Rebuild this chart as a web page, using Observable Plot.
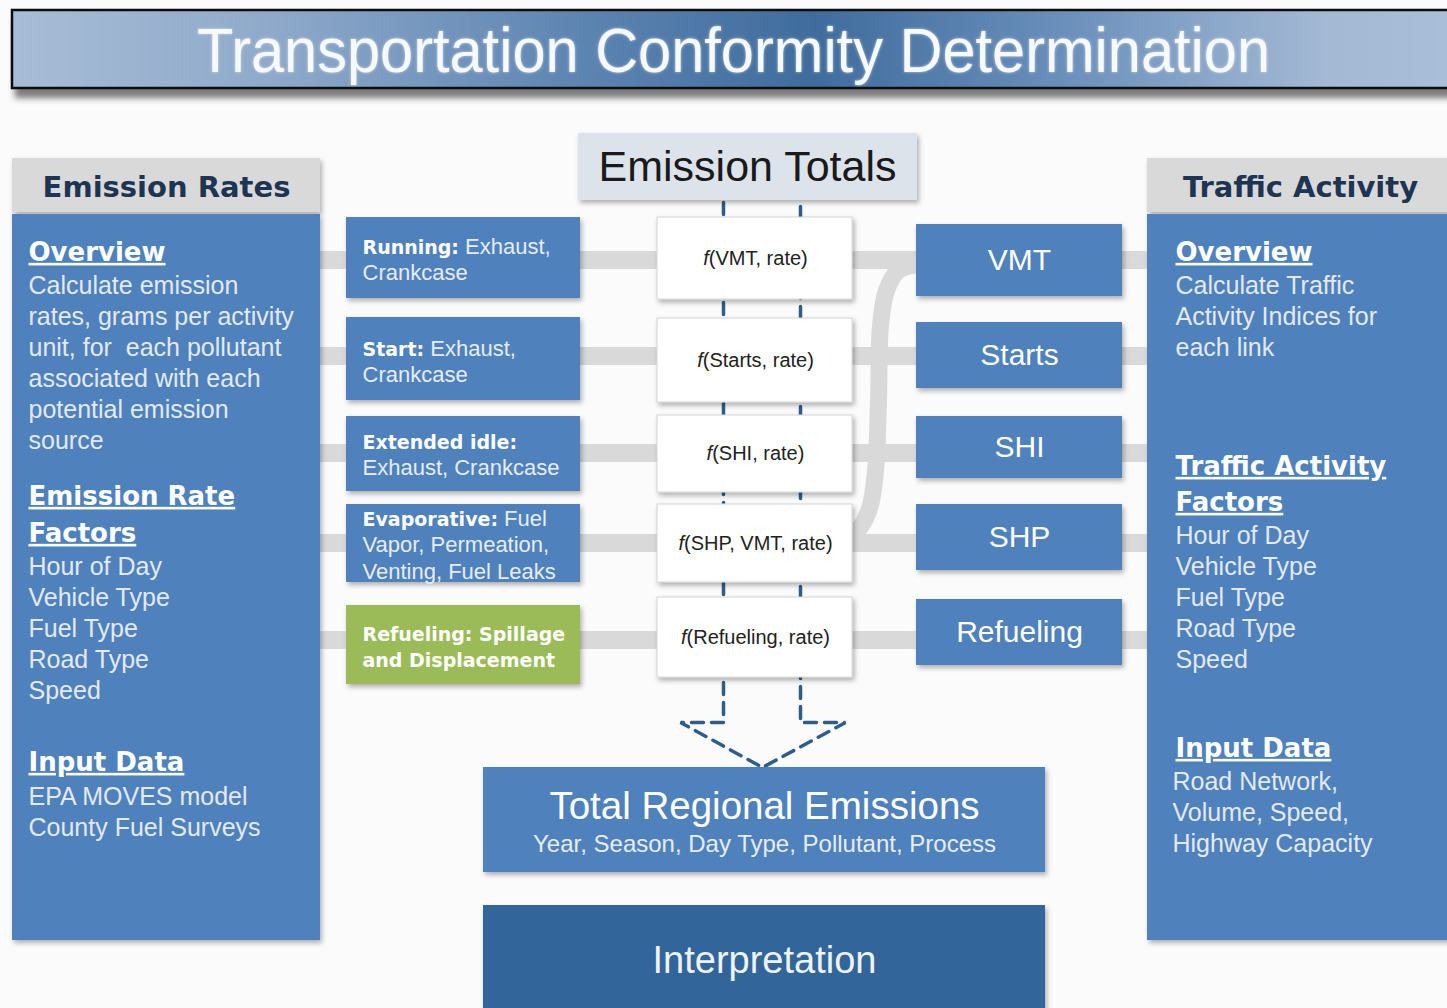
<!DOCTYPE html>
<html><head><meta charset="utf-8">
<script src="https://cdn.jsdelivr.net/npm/d3@7"></script>
<script src="https://cdn.jsdelivr.net/npm/@observablehq/plot@0.6"></script>
<style>html,body{margin:0;padding:0;background:#fbfbfb;overflow:hidden}</style>
</head><body><div id="chart"></div>
<script>
// ---------- content ----------
const titleText = "Transportation Conformity Determination";
const panelHeaders = ["Emission Rates", "Traffic Activity"];
const totalsHeader = "Emission Totals";
const leftHeadings = ["Overview", "Emission Rate", "Factors", "Input Data"];
const leftOverview = ["Calculate emission", "rates, grams per activity", "unit, for  each pollutant", "associated with each", "potential emission", "source"];
const leftFactors = ["Hour of Day", "Vehicle Type", "Fuel Type", "Road Type", "Speed"];
const leftInputs = ["EPA MOVES model", "County Fuel Surveys"];
const rightHeadings = ["Overview", "Traffic Activity", "Factors", "Input Data"];
const rightOverview = ["Calculate Traffic", "Activity Indices for", "each link"];
const rightFactors = ["Hour of Day", "Vehicle Type", "Fuel Type", "Road Type", "Speed"];
const rightInputs = ["Road Network,", "Volume, Speed,", "Highway Capacity"];
const processLines = [
  [["Running:", "Exhaust,"], ["", "Crankcase"]],
  [["Start:", "Exhaust,"], ["", "Crankcase"]],
  [["Extended idle:", ""], ["", "Exhaust, Crankcase"]],
  [["Evaporative:", "Fuel"], ["", "Vapor, Permeation,"], ["", "Venting, Fuel Leaks"]],
  [["Refueling: Spillage", ""], ["and Displacement", ""]]
];
const functionLabels = ["f(VMT, rate)", "f(Starts, rate)", "f(SHI, rate)", "f(SHP, VMT, rate)", "f(Refueling, rate)"];
const activityLabels = ["VMT", "Starts", "SHI", "SHP", "Refueling"];
const totalTitle = "Total Regional Emissions";
const totalSub = "Year, Season, Day Type, Pollutant, Process";
const interpText = "Interpretation";

// ---------- layout (pixel frame of the diagram) ----------
const W = 1447, H = 1008;
const rowCenters = [260, 356, 453, 543, 640];
const procY = [[217, 298], [317, 400], [416, 491], [504, 582], [605, 684]];
const procFirstLine = [246, 348, 441, 518, 633];
const fnY = [[217, 299], [318, 402], [415, 492], [504, 582], [597, 677]];
const actY = [[224, 296], [322, 388], [416, 478], [504, 570], [599, 665]];
const fCurve = [[918, 264], [898, 270], [886, 290], [880, 325], [878, 400], [875, 470], [869, 508], [857, 530], [838, 541]];
const arrowPath = [[723, 202], [723, 722], [680, 722], [762, 767], [845, 722], [800, 722], [800, 202]];

const BLUE = "#4f81bd", GREEN = "#9bbb59", DARK = "#33669a", GRAY = "#d9d9d9";

const boxes = [
  {x1: 12, x2: 320, y1: 158, y2: 212, fill: GRAY},
  {x1: 12, x2: 320, y1: 214, y2: 940, fill: BLUE},
  {x1: 1147, x2: 1460, y1: 158, y2: 212, fill: GRAY},
  {x1: 1147, x2: 1460, y1: 214, y2: 940, fill: BLUE},
  {x1: 578, x2: 917, y1: 133, y2: 200, fill: "#dce3ea"},
  ...procY.map((r, i) => ({x1: 346, x2: 580, y1: r[0], y2: r[1], fill: i === 4 ? GREEN : BLUE})),
  ...actY.map(r => ({x1: 916, x2: 1122, y1: r[0], y2: r[1], fill: BLUE})),
  {x1: 483, x2: 1045, y1: 767, y2: 872, fill: BLUE},
  {x1: 483, x2: 1045, y1: 905, y2: 1010, fill: DARK}
];
const fnBoxes = fnY.map(r => ({x1: 657, x2: 852, y1: r[0], y2: r[1]}));

const block = (lines, x, y0, step) => lines.map((t, i) => ({x, y: y0 + i * step, text: t}));
const headingText = [
  ...leftHeadings.map((t, i) => ({x: 28, y: [252, 496, 533, 762][i], text: t})),
  ...rightHeadings.map((t, i) => ({x: 1175, y: [252, 466, 502, 748][i], text: t}))
];
const bodyText = [
  ...block(leftOverview, 28, 285, 31), ...block(leftFactors, 28, 566, 31), ...block(leftInputs, 28, 796, 31),
  ...block(rightOverview, 1175, 285, 31), ...block(rightFactors, 1175, 535, 31), ...block(rightInputs, 1172, 781, 31)
];
const procText = processLines.flatMap((lines, b) => lines.map((seg, j) => ({x: 362, y: procFirstLine[b] + j * 26.5, bold: seg[0], normal: seg[1]})));
const fnText = functionLabels.map((t, i) => ({x: 755, y: (fnY[i][0] + fnY[i][1]) / 2, text: t}));
const actText = activityLabels.map((t, i) => ({x: 1019, y: (actY[i][0] + actY[i][1]) / 2, text: t}));

const sans = "Liberation Sans, Arial, sans-serif";
const bold = "DejaVu Sans, Verdana, sans-serif";

const plot = Plot.plot({
  width: W, height: H, margin: 0,
  x: {domain: [0, W], range: [0, W], axis: null},
  y: {domain: [0, H], range: [0, H], axis: null},
  style: {background: "#fbfbfb", overflow: "hidden"},
  marks: [
    // connectors
    Plot.rect(rowCenters, {x1: 320, x2: 1147, y1: d => d - 9, y2: d => d + 9, fill: GRAY}),
    Plot.line(fCurve, {x: d => d[0], y: d => d[1], stroke: GRAY, strokeWidth: 17, curve: "catmull-rom", strokeLinecap: "butt"}),
    Plot.line(arrowPath, {x: d => d[0], y: d => d[1], stroke: "#2e5d8c", strokeWidth: 3.5, strokeDasharray: "12,8", strokeLinejoin: "miter"}),
    // title banner
    Plot.rect([titleText], {x1: 12, x2: 1470, y1: 10, y2: 88, fill: "url(#titleGrad)", stroke: "#111", strokeWidth: 2.5, ariaDescription: "titleshadow"}),
    // boxes
    Plot.rect(boxes, {x1: "x1", x2: "x2", y1: "y1", y2: "y2", fill: "fill", ariaDescription: "shadow"}),
    Plot.rect(fnBoxes, {x1: "x1", x2: "x2", y1: "y1", y2: "y2", fill: "white", stroke: "#d4d4d4", strokeWidth: 1, ariaDescription: "shadow"}),
    // texts
    Plot.text([titleText], {x: 733, y: 51, text: d => d, fill: "#f7f9fc", fontSize: 63, fontFamily: "Liberation Sans Narrow, Arial Narrow, Liberation Sans, sans-serif", ariaDescription: "title"}),
    Plot.text(panelHeaders, {x: (d, i) => [166, 1300][i], y: 187, text: d => d, fill: "#1d3552", fontSize: 29, fontWeight: "bold", fontFamily: bold}),
    Plot.text([totalsHeader], {x: 747, y: 167, text: d => d, fill: "#1a1a1a", fontSize: 43, fontFamily: sans}),
    Plot.text(headingText, {x: "x", y: "y", text: "text", textAnchor: "start", fill: "white", fontSize: 26, fontWeight: "bold", fontFamily: bold, ariaDescription: "heading"}),
    Plot.text(bodyText, {x: "x", y: "y", text: "text", textAnchor: "start", fill: "#e3eaf4", fontSize: 25, fontFamily: sans}),
    Plot.text(procText, {x: "x", y: "y", text: d => d.bold + " " + d.normal, textAnchor: "start", fill: "#e6edf6", fontSize: 22, fontFamily: sans, ariaDescription: "proc"}),
    Plot.text(fnText, {x: "x", y: "y", text: "text", fill: "#222", fontSize: 20, fontFamily: sans, ariaDescription: "fn"}),
    Plot.text(actText, {x: "x", y: "y", text: "text", fill: "white", fontSize: 30, fontFamily: sans}),
    Plot.text([totalTitle], {x: 764, y: 806, text: d => d, fill: "white", fontSize: 38.5, fontFamily: sans}),
    Plot.text([totalSub], {x: 764, y: 844, text: d => d, fill: "#e6edf6", fontSize: 24, fontFamily: sans}),
    Plot.text([interpText], {x: 764, y: 960, text: d => d, fill: "#eef3f9", fontSize: 38, fontFamily: sans})
  ]
});

// ---------- styling touches (defs, shadows, rich text) ----------
const svg = d3.select(plot);
const defs = svg.insert("defs", ":first-child");
const g = defs.append("linearGradient").attr("id", "titleGrad").attr("x1", 0).attr("x2", 1).attr("y1", 0).attr("y2", 0);
[[0, "#a8bdd6"], [0.18, "#8ea9ca"], [0.38, "#5f86b3"], [0.55, "#3f6c9d"], [0.72, "#6a8fbb"], [0.9, "#a3b9d4"], [1, "#aabfd8"]]
  .forEach(([o, c]) => g.append("stop").attr("offset", o).attr("stop-color", c));
const f1 = defs.append("filter").attr("id", "sh").attr("x", "-10%").attr("y", "-10%").attr("width", "130%").attr("height", "130%");
f1.append("feDropShadow").attr("dx", 2).attr("dy", 3).attr("stdDeviation", 2.5).attr("flood-color", "#000").attr("flood-opacity", 0.3);
const f2 = defs.append("filter").attr("id", "tsh").attr("x", "-5%").attr("y", "-20%").attr("width", "120%").attr("height", "160%");
f2.append("feDropShadow").attr("dx", 4).attr("dy", 9).attr("stdDeviation", 3).attr("flood-color", "#000").attr("flood-opacity", 0.5);
const f3 = defs.append("filter").attr("id", "glow").attr("x", "-5%").attr("y", "-20%").attr("width", "110%").attr("height", "140%");
f3.append("feDropShadow").attr("dx", 0).attr("dy", 0).attr("stdDeviation", 1.5).attr("flood-color", "#ffffff").attr("flood-opacity", 0.6);

svg.selectAll('[aria-description="shadow"]').attr("filter", "url(#sh)");
svg.selectAll('[aria-description="titleshadow"]').attr("filter", "url(#tsh)");
svg.selectAll('[aria-description="title"] text').attr("textLength", 1073).attr("lengthAdjust", "spacingAndGlyphs").attr("filter", "url(#glow)");
svg.selectAll('[aria-description="heading"] text').style("text-decoration", "underline");
svg.selectAll('[aria-description="proc"] text').each(function(_, i) {
  const d = procText[i];
  const t = d3.select(this);
  t.text(null).style("white-space", "pre");
  if (d.bold) t.append("tspan").attr("font-family", bold).attr("font-weight", "bold").attr("font-size", 19).attr("fill", "white").text(d.bold);
  if (d.normal) t.append("tspan").text((d.bold ? " " : "") + d.normal);
});
svg.selectAll('[aria-description="fn"] text').each(function() {
  const t = d3.select(this);
  const s = t.text();
  t.text(null);
  t.append("tspan").attr("font-style", "italic").text(s.slice(0, 1));
  t.append("tspan").text(s.slice(1));
});

document.getElementById("chart").appendChild(plot);
</script></body></html>
